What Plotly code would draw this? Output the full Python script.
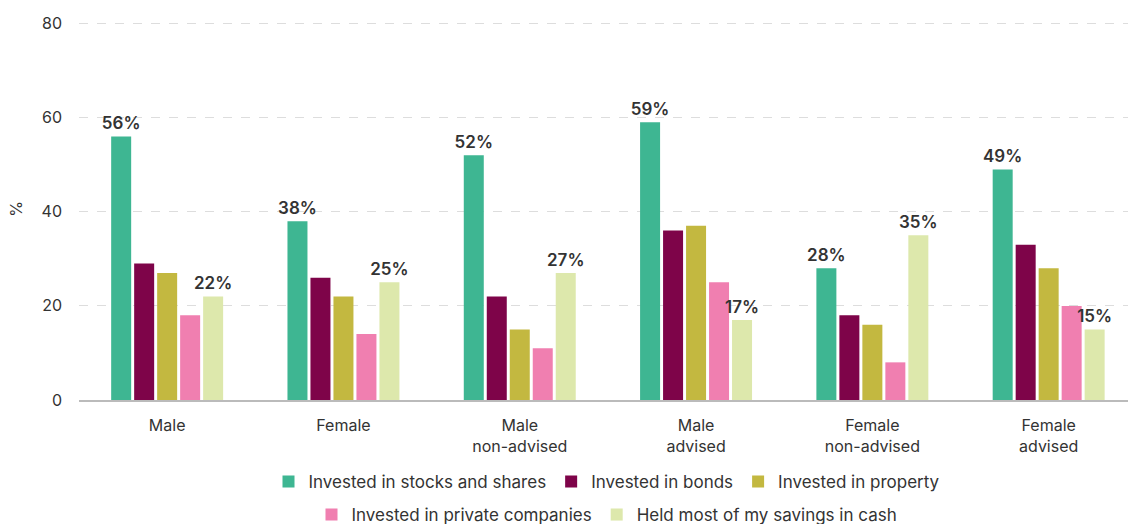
import plotly.graph_objects as go

categories = ["Male", "Female", "Male<br>non-advised", "Male<br>advised", "Female<br>non-advised", "Female<br>advised"]
series_names = ["Invested in stocks and shares", "Invested in bonds", "Invested in property",
                "Invested in private companies", "Held most of my savings in cash"]
stocks = [56, 38, 52, 59, 28, 49]
bonds = [29, 26, 22, 36, 18, 33]
property_ = [27, 22, 15, 37, 16, 28]
private = [18, 14, 11, 25, 8, 20]
cash = [22, 25, 27, 17, 35, 15]
colors = ["#3EB692", "#7E0449", "#C3B840", "#F07FB0", "#DDE8AC"]
show_labels = [True, False, False, False, True]
legends = ["legend", "legend", "legend", "legend2", "legend2"]

FONT = "Inter"
TXT = "#333333"

fig = go.Figure()
for name, vals, col, lab, lg in zip(series_names, [stocks, bonds, property_, private, cash], colors, show_labels, legends):
    fig.add_trace(go.Bar(
        x=categories, y=vals, name=name, marker=dict(color=col, line=dict(width=0)),
        text=[f"{v}%" for v in vals] if lab else None,
        textposition="outside" if lab else "none",
        constraintext="none",
        textfont=dict(family=FONT, size=17, color=TXT, weight=600),
        cliponaxis=False, legend=lg,
    ))

fig.update_layout(
    width=1128, height=524,
    margin=dict(l=79, r=0, t=18, b=124, autoexpand=False),
    paper_bgcolor="white", plot_bgcolor="white",
    barmode="group", bargap=0.348, bargroupgap=0.13,
    font=dict(family=FONT, size=16, color=TXT),
    xaxis=dict(range=[-0.5, 5.45], showgrid=False, showline=True, linecolor="#BBBBBB", linewidth=1.5,
               ticks="", tickfont=dict(size=16, color=TXT), ticklabelstandoff=10, automargin=False),
    yaxis=dict(range=[0, 81.17], tickvals=[0, 20, 40, 60, 80], showgrid=True, gridcolor="#DDDDDD",
               griddash="dash", gridwidth=1,
               zeroline=False, showline=False, ticks="", tickfont=dict(size=16, color=TXT),
               ticklabelstandoff=16, automargin=False,
               title=dict(text="%", font=dict(size=16, color=TXT), standoff=14)),
    legend=dict(orientation="h", x=607 / 1128, xanchor="center", xref="container",
                y=1 - 482 / 524, yanchor="middle", yref="container",
                font=dict(size=17, color=TXT), itemclick=False, traceorder="normal"),
    legend2=dict(orientation="h", x=607 / 1128, xanchor="center", xref="container",
                 y=1 - 515 / 524, yanchor="middle", yref="container",
                 font=dict(size=17, color=TXT), itemclick=False, traceorder="normal"),
    showlegend=True,
)

fig.write_html("out.html", config={"displayModeBar": False},
               post_script="document.body.style.margin='0';document.body.style.overflow='hidden';")
